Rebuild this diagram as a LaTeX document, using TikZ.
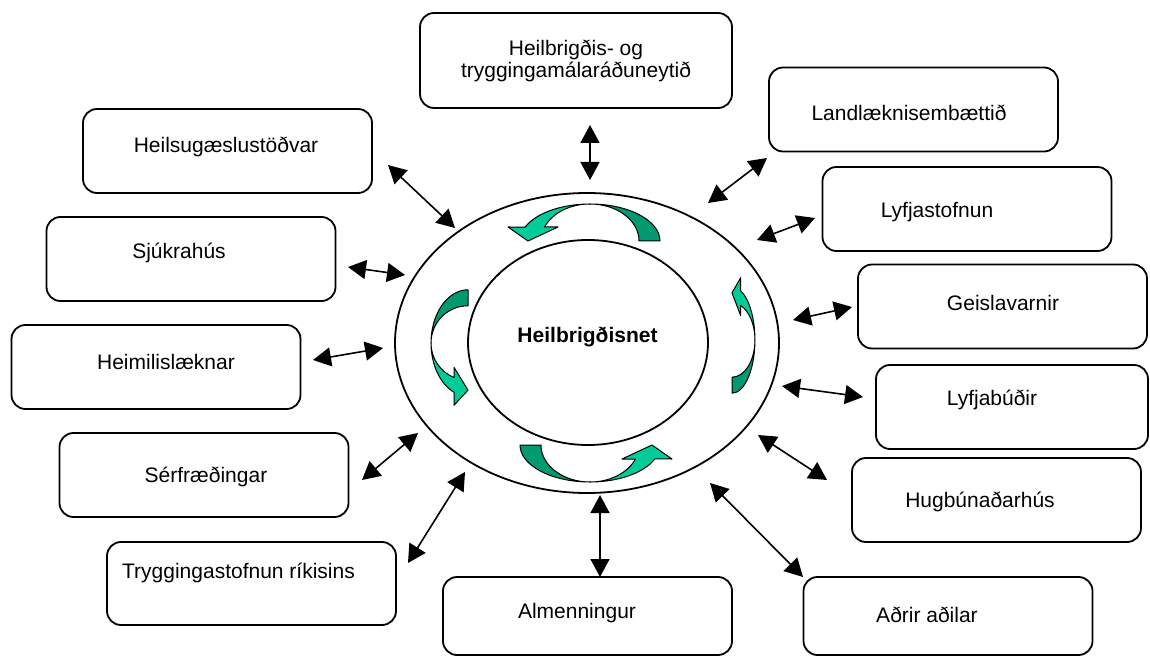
\documentclass[tikz,border=0pt]{standalone}
\usepackage{fontspec}
\setmainfont{Liberation Sans}
\usepackage{tikz}
\usetikzlibrary{arrows.meta,shapes.geometric}
\usepackage{xcolor}
\definecolor{swirllight}{RGB}{0,204,153}
\definecolor{swirldark}{RGB}{0,153,112}
\tikzset{
  agency/.style = {draw, line width=0.9pt, rounded corners=7pt,
                   minimum width=144.5pt, minimum height=42pt},
  hull/.style   = {draw, line width=0.9pt, ellipse, inner sep=0pt},
  link/.style   = {line width=0.8pt,
                   {Triangle[length=9pt,width=9.5pt]}-{Triangle[length=9pt,width=9.5pt]}},
  swirl/.style  = {draw=black, line width=0.5pt, line join=round},
}
\newcommand{\cyclearrow}[1]{%
  \begin{scope}[#1]
    \path[swirl,fill=swirldark] (70,0)
      arc[start angle=0,end angle=-90,x radius=70,y radius=37]
      arc[start angle=-90,end angle=0,x radius=49,y radius=37] -- cycle;
    \path[swirl,fill=swirllight] (0,-37)
      arc[start angle=-90,end angle=-157.8,x radius=70,y radius=37]
      -- (-82,-14) -- (-62,0) -- (-32,-14) -- (-45.4,-14)
      arc[start angle=-157.8,end angle=-90,x radius=49,y radius=37] -- cycle;
  \end{scope}}

\begin{document}
\begin{tikzpicture}[x=0.5pt,y=-0.5pt,font=\fontsize{10.5pt}{11pt}\selectfont]
\useasboundingbox (0,0) rectangle (1150,657);
\node[hull,minimum width=192pt,minimum height=150pt] (ring) at (587,343) {};
\node[hull,minimum width=120pt,minimum height=102.5pt] (core) at (588,342.5) {};
\node[font=\fontsize{10.5pt}{11pt}\selectfont\bfseries] (net) at (587.5,337) {Heilbrigðisnet};
\cyclearrow{shift={(590,241)}}
\cyclearrow{shift={(590,445)},rotate=180}
\cyclearrow{shift={(468,343)},rotate=90,xscale=0.76}
\cyclearrow{shift={(732,340)},rotate=-90,xscale=0.76,yscale=0.62}

\node[agency,minimum width=156pt,minimum height=47.5pt] (minis) at (576,60.5) {};
\node[agency] (landl)  at (913.5,109.5) {};
\node[agency] (lyfst)  at (967,209) {};
\node[agency] (geisl)  at (1002.5,306.5) {};
\node[agency,minimum width=136pt] (lyfbud) at (1012,407) {};
\node[agency] (hugb)   at (996.5,500) {};
\node[agency,minimum height=39pt] (adrir)  at (948,616) {};
\node[agency,minimum height=39pt] (almenn) at (587.5,616) {};
\node[agency,minimum height=41.5pt] (trygg) at (251.5,583.5) {};
\node[agency] (serfr)  at (204,475) {};
\node[agency] (heimil) at (156,367) {};
\node[agency] (sjukra) at (191,259) {};
\node[agency] (heilsug) at (227.5,151) {};

\node[align=center] (minis-t) at (minis) {Heilbrigðis- og\\tryggingamálaráðuneytið};
\node (landl-t)  at (909,113) {Landlæknisembættið};
\node (lyfst-t)  at (937,212) {Lyfjastofnun};
\node (geisl-t)  at (1003,303) {Geislavarnir};
\node (lyfbud-t) at (992,400) {Lyfjabúðir};
\node (hugb-t)   at (980,502) {Hugbúnaðarhús};
\node (adrir-t)  at (927,615) {Aðrir aðilar};
\node (almenn-t) at (577,613) {Almenningur};
\node (trygg-t)  at (238.5,573) {Tryggingastofnun ríkisins};
\node (serfr-t)  at (206,477) {Sérfræðingar};
\node (heimil-t) at (166,362) {Heimilislæknar};
\node (sjukra-t) at (179,253) {Sjúkrahús};
\node (heilsug-t) at (226,147) {Heilsugæslustöðvar};

\coordinate (minis-a) at (590,125);   \coordinate (minis-b) at (590,180);
\coordinate (landl-a) at (767,158);   \coordinate (landl-b) at (708,203);
\coordinate (lyfst-a) at (815,218);   \coordinate (lyfst-b) at (757,240);
\coordinate (geisl-a) at (852,307);   \coordinate (geisl-b) at (793,320);
\coordinate (lyfbud-a) at (863,397);  \coordinate (lyfbud-b) at (782,386);
\coordinate (hugb-a) at (827,480);    \coordinate (hugb-b) at (758,435);
\coordinate (adrir-a) at (803,577);   \coordinate (adrir-b) at (710,483);
\coordinate (almenn-a) at (600,577);  \coordinate (almenn-b) at (600,495);
\coordinate (trygg-a) at (408,563);   \coordinate (trygg-b) at (465,472);
\coordinate (serfr-a) at (362,480);   \coordinate (serfr-b) at (418,433);
\coordinate (heimil-a) at (313,360);  \coordinate (heimil-b) at (383,348);
\coordinate (sjukra-a) at (348,267);  \coordinate (sjukra-b) at (405,275);
\coordinate (heilsug-a) at (388,165); \coordinate (heilsug-b) at (455,228);

\draw[link] (minis-a) -- (minis-b);
\draw[link] (landl-a) -- (landl-b);
\draw[link] (lyfst-a) -- (lyfst-b);
\draw[link] (geisl-a) -- (geisl-b);
\draw[link] (lyfbud-a) -- (lyfbud-b);
\draw[link] (hugb-a) -- (hugb-b);
\draw[link] (adrir-a) -- (adrir-b);
\draw[link] (almenn-a) -- (almenn-b);
\draw[link] (trygg-a) -- (trygg-b);
\draw[link] (serfr-a) -- (serfr-b);
\draw[link] (heimil-a) -- (heimil-b);
\draw[link] (sjukra-a) -- (sjukra-b);
\draw[link] (heilsug-a) -- (heilsug-b);
\end{tikzpicture}
\end{document}
